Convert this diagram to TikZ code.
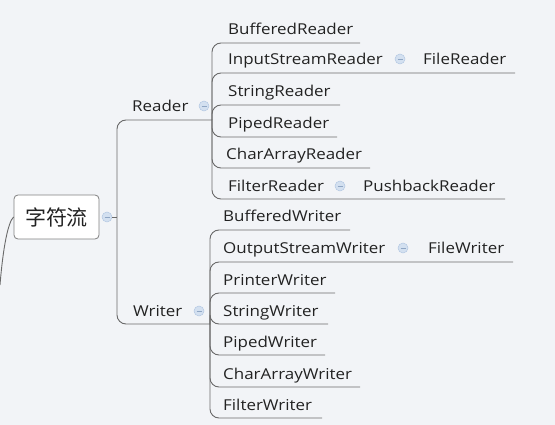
\documentclass[tikz,border=0pt]{standalone}
\usepackage{fontspec}
\setmainfont{Open Sans}[FakeStretch=1.13]
\newfontfamily\cjk{Noto Sans CJK SC}
\definecolor{bg}{HTML}{F2F4F7}
\definecolor{ln}{HTML}{6A6A6A}
\definecolor{tx}{HTML}{222222}
\definecolor{cf}{HTML}{D3E0F0}
\definecolor{cb}{HTML}{B4C8E2}
\definecolor{mn}{HTML}{8FA6C4}
\begin{document}
\begin{tikzpicture}[x=1pt,y=-1pt,
  lbl/.style={anchor=base west, inner sep=0pt, text=tx, font=\fontsize{15}{18}\selectfont},
  conn/.style={draw=ln, line width=0.9pt, rounded corners=9pt},
  coll/.style={circle, minimum size=10pt, inner sep=0pt, fill=cf, draw=cb, line width=0.5pt,
    path picture={\draw[mn, line width=0.8pt] ([xshift=-2.5pt]path picture bounding box.center) -- ([xshift=2.5pt]path picture bounding box.center);}}
]
\fill[bg] (0,0) rectangle (555,425);
\useasboundingbox (0,0) rectangle (555,425);

% root
\node[draw=ln!85, fill=white, rounded corners=4pt, minimum width=85pt, minimum height=44pt,
      line width=0.8pt, font=\cjk\fontsize{21}{24}\selectfont, text=tx] (root) at (56.5,217) {字符流};
\coordinate (up) at (0,285);
\draw[conn] (root.west) .. controls (8,222) and (3,248) .. (up);
\node[coll] (c0) at (107,217) {};
\coordinate (rt) at (117,217);
\coordinate (rdE) at (212,120);
\coordinate (wrE) at (210,324);
\draw[conn] (c0.east) -- (rt);
\draw[conn] (rt) |- (rdE);
\draw[conn] (rt) |- (wrE);

% Reader
\node[lbl] (reader) at (132,112) {Reader};
\node[coll] (c1) at (204,106) {};
% Writer
\node[lbl] (writer) at (133,316.5) {Writer};
\node[coll] (c2) at (199,311) {};

% Reader children
\node[lbl] (r1) at (228,35) {BufferedReader};
\node[lbl] (r2) at (228,65) {InputStreamReader};
\node[coll] (c3) at (400,59) {};
\node[lbl] (r2a) at (423,65) {FileReader};
\node[lbl] (r3) at (228,97) {StringReader};
\node[lbl] (r4) at (228,129) {PipedReader};
\node[lbl] (r5) at (226,160) {CharArrayReader};
\node[lbl] (r6) at (228,191.5) {FilterReader};
\node[coll] (c4) at (340,186) {};
\node[lbl] (r6a) at (363,191.5) {PushbackReader};

\coordinate (e1) at (360,43);
\coordinate (e2) at (515,73);
\coordinate (e3) at (340,105);
\coordinate (e4) at (337,137);
\coordinate (e5) at (370,168);
\coordinate (e6) at (505,199);
\foreach \e in {e1,e2,e3,e4,e5,e6} \draw[conn] (rdE) |- (\e);

% Writer children
\node[lbl] (w1) at (223,222) {BufferedWriter};
\node[lbl] (w2) at (223,254) {OutputStreamWriter};
\node[coll] (c5) at (403,248) {};
\node[lbl] (w2a) at (428,254) {FileWriter};
\node[lbl] (w3) at (223,285.5) {PrinterWriter};
\node[lbl] (w4) at (223,316.5) {StringWriter};
\node[lbl] (w5) at (223,347.5) {PipedWriter};
\node[lbl] (w6) at (223,379.5) {CharArrayWriter};
\node[lbl] (w7) at (223,410.5) {FilterWriter};

\coordinate (f1) at (350,230);
\coordinate (f2) at (513,262);
\coordinate (f3) at (335,293);
\coordinate (f4) at (328,324);
\coordinate (f5) at (325,355);
\coordinate (f6) at (360,387);
\coordinate (f7) at (322,418);
\foreach \e in {f1,f2,f3,f4,f5,f6,f7} \draw[conn] (wrE) |- (\e);
\end{tikzpicture}
\end{document}
